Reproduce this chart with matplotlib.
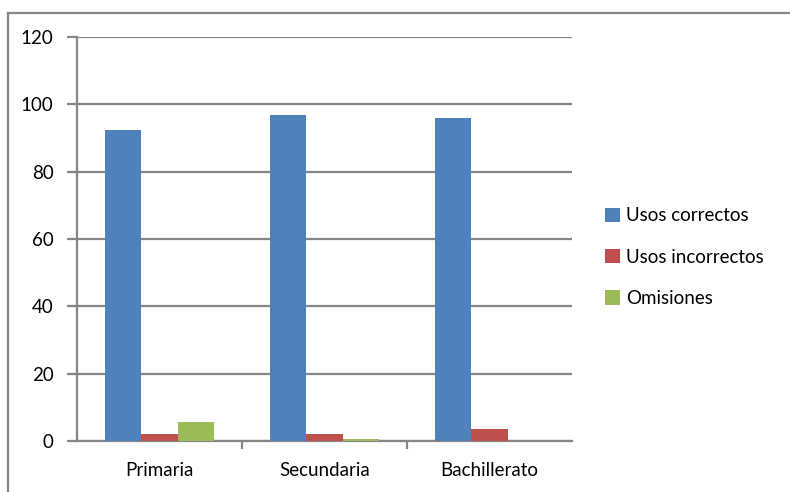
import matplotlib
matplotlib.use("Agg")
import matplotlib.pyplot as plt
from matplotlib.lines import Line2D
import numpy as np

categories = ["Primaria", "Secundaria", "Bachillerato"]
series_names = ["Usos correctos", "Usos incorrectos", "Omisiones"]
usos_correctos = [92.3, 96.8, 95.8]
usos_incorrectos = [2.1, 2.1, 3.6]
omisiones = [5.6, 0.5, 0.0]
y_ticks = [0, 20, 40, 60, 80, 100, 120]

colors = ["#4F81BD", "#C0504D", "#9BBB59"]
grid_color = "#868686"

plt.rcParams["font.family"] = ["Lato", "DejaVu Sans"]
fs = 13.5

fig = plt.figure(figsize=(7.9, 4.92), dpi=100)
ax = fig.add_axes([0.0975, 0.1037, 0.6265, 0.8211])

x = np.arange(len(categories))
w = 0.222
values = [usos_correctos, usos_incorrectos, omisiones]
for i, (vals, name, c) in enumerate(zip(values, series_names, colors)):
    ax.bar(x + (i - 1) * w, vals, width=w, color=c, label=name,
           edgecolor="none", zorder=3)

ax.set_xlim(-0.5, len(categories) - 0.5)
ax.set_ylim(0, 120)
ax.set_yticks(y_ticks)
ax.yaxis.grid(True, color=grid_color, linewidth=1.6, zorder=0)
ax.set_axisbelow(True)

for side in ["top", "right"]:
    ax.spines[side].set_visible(False)
for side in ["left", "bottom"]:
    ax.spines[side].set_color(grid_color)
    ax.spines[side].set_linewidth(1.6)

ax.tick_params(axis="y", length=7, width=1.6, color=grid_color, pad=10,
               labelsize=fs)
ax.set_xticks(x)
ax.set_xticklabels(categories)
ax.tick_params(axis="x", length=0, pad=15, labelsize=fs)
ax.set_xticks([0.5, 1.5], minor=True)
ax.tick_params(axis="x", which="minor", length=6, width=1.6, color=grid_color)

leg = ax.legend(loc="center left", bbox_to_anchor=(1.032, 0.455), frameon=False,
                fontsize=fs, handlelength=0.8, handleheight=0.8,
                handletextpad=0.35, labelspacing=1.3)

# outer chart frame
fig.add_artist(Line2D([8 / 790, 1.0], [1 - 13 / 492] * 2, color=grid_color,
                      linewidth=1.6, transform=fig.transFigure))
fig.add_artist(Line2D([8 / 790] * 2, [0.0, 1 - 13 / 492], color=grid_color,
                      linewidth=1.6, transform=fig.transFigure))

fig.savefig("out.png", dpi=100)
